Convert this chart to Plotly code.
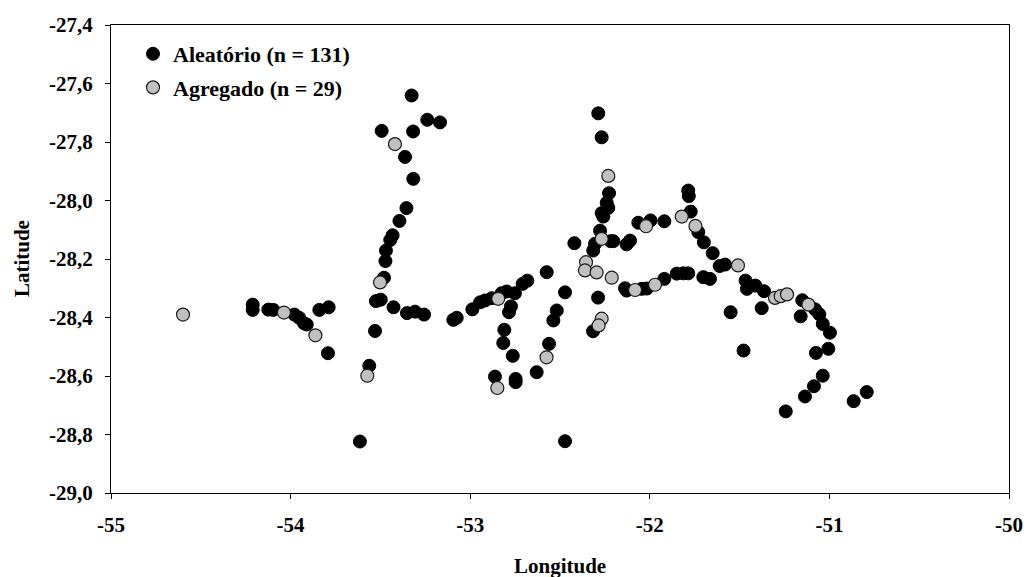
import plotly.graph_objects as go

# Aleatório (black) points
ale_lon = [
    -54.211, -54.211, -54.124, -54.096, -53.979, -53.952, -53.925, -53.910, -53.840, -53.788, -53.792,
    -53.326, -53.239, -53.168, -53.493, -53.318, -53.363, -53.317, -53.355, -53.394, -53.432, -53.445,
    -53.469, -53.472, -53.480, -53.525, -53.498, -53.427, -53.352, -53.307, -53.257, -53.530, -53.562, -53.614,
    -53.094, -53.075, -52.988, -52.945, -52.918, -52.880, -52.825, -52.797, -52.751, -52.708, -52.682,
    -52.574, -52.773, -52.784, -52.810, -52.816, -52.763, -52.862, -52.747, -52.747, -52.630, -52.561,
    -52.537, -52.518, -52.472, -52.420, -52.472,
    -52.287, -52.268, -52.227, -52.240, -52.231, -52.268, -52.259, -52.277, -52.305, -52.315, -52.218,
    -52.203, -52.129, -52.110, -52.288, -52.316,
    -52.138, -52.129, -52.045, -52.017, -51.919, -51.850, -51.813, -51.786, -51.702, -51.665,
    -52.064, -51.996, -51.919, -51.786, -51.783, -51.772, -51.730, -51.699, -51.650, -51.611, -51.581,
    -51.550, -51.478,
    -51.467, -51.459, -51.412, -51.364, -51.377, -51.151, -51.080, -51.056, -51.037, -50.997, -51.160,
    -51.006, -51.075, -51.037, -51.086, -51.136, -51.243, -50.792, -50.865,
]
ale_lat = [
    -28.356, -28.374, -28.373, -28.374, -28.390, -28.401, -28.420, -28.424, -28.374, -28.365, -28.522,
    -27.641, -27.724, -27.733, -27.762, -27.764, -27.851, -27.926, -28.026, -28.070, -28.119, -28.135,
    -28.171, -28.207, -28.264, -28.344, -28.339, -28.365, -28.385, -28.380, -28.390, -28.446, -28.565, -28.824,
    -28.408, -28.401, -28.372, -28.348, -28.342, -28.334, -28.317, -28.311, -28.317, -28.285, -28.274,
    -28.245, -28.362, -28.382, -28.442, -28.487, -28.531, -28.602, -28.610, -28.621, -28.587, -28.490,
    -28.410, -28.376, -28.314, -28.146, -28.823,
    -27.702, -27.784, -27.975, -28.008, -28.025, -28.043, -28.055, -28.103, -28.148, -28.171, -28.139,
    -28.139, -28.150, -28.137, -28.332, -28.447,
    -28.300, -28.308, -28.302, -28.301, -28.268, -28.250, -28.249, -28.249, -28.262, -28.268,
    -28.076, -28.068, -28.071, -27.966, -27.985, -28.038, -28.108, -28.143, -28.180, -28.224, -28.219,
    -28.382, -28.513,
    -28.274, -28.302, -28.291, -28.310, -28.368, -28.341, -28.372, -28.389, -28.422, -28.452, -28.396,
    -28.507, -28.521, -28.599, -28.635, -28.670, -28.721, -28.655, -28.686,
]

# Agregado (grey) points
agr_lon = [
    -54.599, -54.037, -53.862, -53.502, -53.573, -53.419, -52.844, -52.849, -52.575, -52.268,
    -52.355, -52.361, -52.296, -52.212, -52.082, -51.971, -52.268, -52.285, -52.231, -52.021,
    -51.822, -51.746, -51.509, -51.303, -51.271, -51.236, -51.117,
]
agr_lat = [
    -28.390, -28.383, -28.461, -28.280, -28.599, -27.807, -28.336, -28.641, -28.536, -28.131,
    -28.211, -28.239, -28.246, -28.264, -28.306, -28.288, -28.404, -28.427, -27.916, -28.088,
    -28.055, -28.087, -28.222, -28.333, -28.327, -28.321, -28.356,
]

x_ticks = [-55, -54, -53, -52, -51, -50]
x_ticktext = ["-55", "-54", "-53", "-52", "-51", "-50"]
y_ticks = [-27.4, -27.6, -27.8, -28.0, -28.2, -28.4, -28.6, -28.8, -29.0]
y_ticktext = ["-27,4", "-27,6", "-27,8", "-28,0", "-28,2", "-28,4", "-28,6", "-28,8", "-29,0"]

FONT = "Liberation Serif, Times New Roman, serif"

fig = go.Figure()
fig.add_trace(go.Scatter(
    x=ale_lon, y=ale_lat, mode="markers", name="Aleatório (n = 131)", legendgroup="a",
    marker=dict(size=13, color="#000000", line=dict(color="#000000", width=1)),
))
fig.add_trace(go.Scatter(
    x=agr_lon, y=agr_lat, mode="markers", name="Agregado (n = 29)", legendgroup="b",
    marker=dict(size=13, color="#C0C0C0", line=dict(color="#1a1a1a", width=1.2)),
))

axis_common = dict(
    showline=True, linecolor="black", linewidth=1, mirror=True,
    ticks="outside", ticklen=5, tickwidth=1, tickcolor="black",
    showgrid=False, zeroline=False, automargin=False,
    tickfont=dict(family=FONT, size=21, color="black", weight="bold"),
)

fig.update_layout(
    width=1026, height=577,
    margin=dict(l=111, r=17, t=25, b=84),
    paper_bgcolor="white", plot_bgcolor="white",
    font=dict(family=FONT, color="black"),
    xaxis=dict(
        range=[-55, -50], tickvals=x_ticks,
        ticktext=[f"<b>{t}</b>" for t in x_ticktext],
        ticklabelstandoff=8,
        **axis_common,
    ),
    yaxis=dict(
        range=[-29.0, -27.4], tickvals=y_ticks,
        ticktext=[f"<b>{t}</b>" for t in y_ticktext],
        ticklabelstandoff=8,
        **axis_common,
    ),
    legend=dict(
        x=0.0245, y=0.983, xanchor="left", yanchor="top",
        bgcolor="rgba(0,0,0,0)", borderwidth=0,
        font=dict(family=FONT, size=22, color="black", weight="bold"),
        itemsizing="trace", tracegroupgap=2,
    ),
    annotations=[
        dict(text="<b>Longitude</b>", xref="paper", yref="paper", x=0.5, y=-0.156,
             xanchor="center", yanchor="middle", showarrow=False,
             font=dict(family=FONT, size=21, color="black")),
        dict(text="<b>Latitude</b>", xref="paper", yref="paper", x=-0.099, y=0.5,
             xanchor="center", yanchor="middle", showarrow=False, textangle=-90,
             font=dict(family=FONT, size=21, color="black")),
    ],
    showlegend=True,
)

fig.write_html(
    "out.html",
    config={"displayModeBar": False},
    post_script="document.body.style.margin='0px';document.body.style.overflow='hidden';",
)
